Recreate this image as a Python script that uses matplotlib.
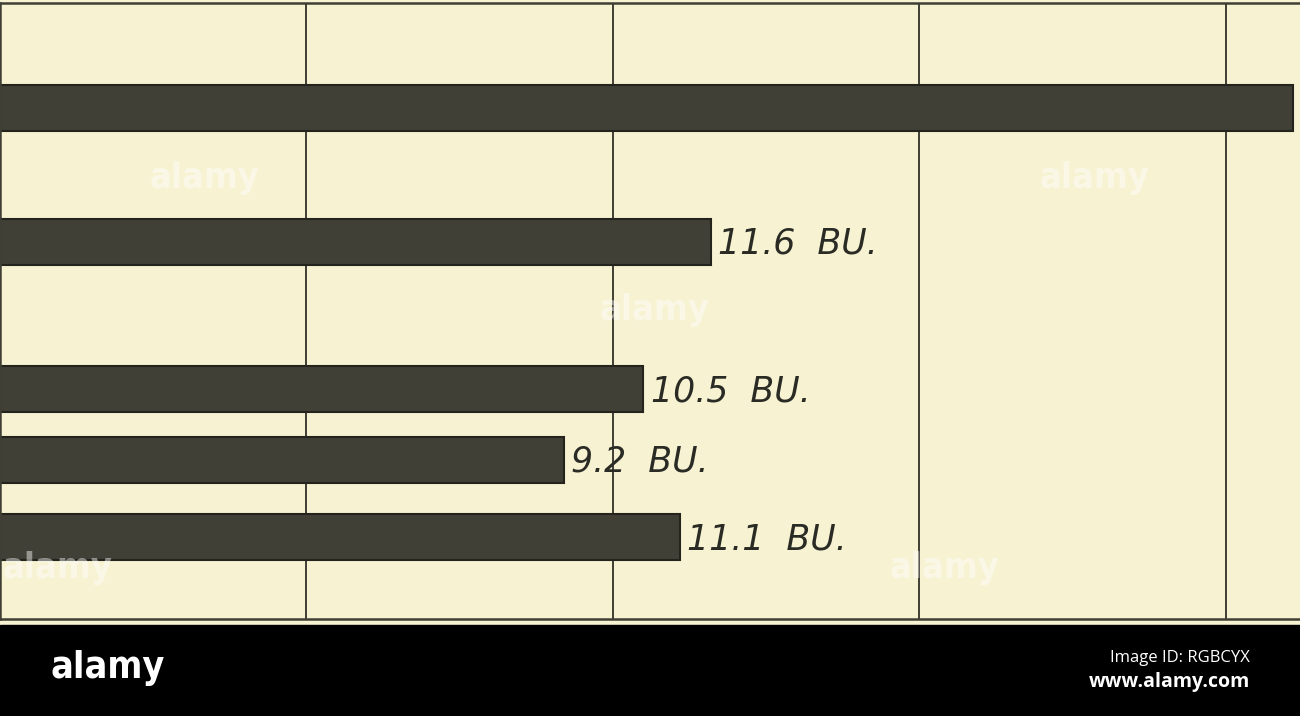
import matplotlib
matplotlib.use("Agg")
import matplotlib.pyplot as plt

# bar values in bushels, top to bottom
values = [21.1, 11.6, 10.5, 9.2, 11.1]
labels = ["", "11.6  BU.", "10.5  BU.", "9.2  BU.", "11.1  BU."]
grid_at = [5, 10, 15, 20]

# layout: row centres in pixel units of the chart area (0 = top)
rows = [105, 239, 386, 457, 534]
bar_h = 46

W, H = 1300, 716
fig = plt.figure(figsize=(W / 100, H / 100), dpi=100)
fig.patch.set_facecolor("#f6f2d2")

chart_top, chart_bot = 3, 619
ax = fig.add_axes([0, (H - chart_bot) / H, 1, (chart_bot - chart_top) / H])
ax.set_facecolor("#f6f2d2")
ax.set_xlim(0.01, 21.21)
ax.set_ylim(chart_bot - chart_top, 0)

for g in grid_at:
    ax.axvline(g, color="#3f3f36", lw=1.4, zorder=1)

ax.barh(rows, values, height=bar_h, color="#414036", edgecolor="#24241d",
        linewidth=1.5, zorder=2)
for y, v, lab in zip(rows, values, labels):
    if lab:
        ax.text(v + 0.12, y + 2, lab, ha="left", va="center", fontsize=25,
                style="italic", color="#2b2b25", fontweight="light", zorder=3)

for s in ["top", "bottom", "left"]:
    ax.spines[s].set_color("#3f3f36")
    ax.spines[s].set_linewidth(1.8)
ax.spines["right"].set_visible(False)
ax.set_xticks([])
ax.set_yticks([])

# faint stock-photo watermark
for x, y in [(205, 178), (655, 310), (1095, 178), (58, 568), (945, 568)]:
    fig.text(x / W, 1 - y / H, "alamy", color="white", alpha=0.45,
             fontsize=26, fontweight="bold", fontstretch="condensed",
             ha="center", va="center")

# black banner at the bottom
fig.patches.append(plt.Rectangle((0, 0), 1, (H - 625) / H, transform=fig.transFigure,
                                 color="black", zorder=10))
fig.text(50 / W, 1 - 668 / H, "alamy", color="white", fontsize=27, fontweight="bold",
         fontstretch="condensed", ha="left", va="center", zorder=11)
fig.text(1250 / W, 1 - 658 / H, "Image ID: RGBCYX", color="white", fontsize=12,
         family="Open Sans", ha="right", va="center", zorder=11)
fig.text(1250 / W, 1 - 682 / H, "www.alamy.com", color="white", fontsize=14,
         family="Open Sans", fontweight="bold", ha="right", va="center", zorder=11)

fig.savefig("out.png", dpi=100, facecolor=fig.get_facecolor())
